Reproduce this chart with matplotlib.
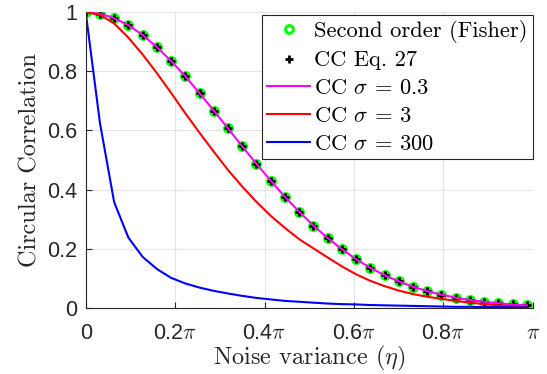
import matplotlib
matplotlib.use("Agg")
import matplotlib.pyplot as plt
import numpy as np

plt.rcParams['mathtext.fontset'] = 'cm'
plt.rcParams['axes.formatter.use_mathtext'] = True

# noise variance samples (rad)
eta = [0.0, 0.1, 0.2, 0.3, 0.4, 0.5, 0.6, 0.7, 0.8, 0.9,
       1.0, 1.1, 1.2, 1.3, 1.4, 1.5, 1.6, 1.7, 1.8, 1.9,
       2.0, 2.1, 2.2, 2.3, 2.4, 2.5, 2.6, 2.7, 2.8, 2.9,
       3.0, 3.1]

# second order (Fisher) / CC Eq. 27 / CC sigma=0.3 (all on top of each other)
cc_fisher = [1.000, 0.995, 0.980, 0.956, 0.923, 0.882, 0.835, 0.783, 0.726, 0.667,
             0.607, 0.546, 0.487, 0.430, 0.375, 0.325, 0.278, 0.236, 0.198, 0.164,
             0.135, 0.110, 0.089, 0.071, 0.056, 0.044, 0.034, 0.026, 0.020, 0.015,
             0.011, 0.008]
cc_eq27 = [1.000, 0.995, 0.980, 0.956, 0.923, 0.882, 0.835, 0.783, 0.726, 0.667,
           0.607, 0.546, 0.487, 0.430, 0.375, 0.325, 0.278, 0.236, 0.198, 0.164,
           0.135, 0.110, 0.089, 0.071, 0.056, 0.044, 0.034, 0.026, 0.020, 0.015,
           0.011, 0.008]
cc_s03 = [1.000, 0.995, 0.980, 0.956, 0.923, 0.882, 0.835, 0.783, 0.726, 0.667,
          0.607, 0.546, 0.487, 0.430, 0.375, 0.325, 0.278, 0.236, 0.198, 0.164,
          0.135, 0.110, 0.089, 0.071, 0.056, 0.044, 0.034, 0.026, 0.020, 0.015,
          0.011, 0.008]
cc_s3 = [1.000, 0.991, 0.962, 0.914, 0.857, 0.794, 0.727, 0.658, 0.592, 0.528,
         0.466, 0.410, 0.358, 0.311, 0.270, 0.232, 0.201, 0.170, 0.140, 0.113,
         0.091, 0.073, 0.058, 0.046, 0.037, 0.030, 0.023, 0.017, 0.012, 0.008,
         0.005, 0.003]
cc_s300 = [1.000, 0.625, 0.357, 0.237, 0.172, 0.131, 0.101, 0.082, 0.068, 0.057,
           0.048, 0.040, 0.033, 0.028, 0.023, 0.020, 0.017, 0.014, 0.012, 0.011,
           0.009, 0.008, 0.007, 0.006, 0.005, 0.004, 0.003, 0.003, 0.002, 0.002,
           0.001, 0.001]

xtick_labels = ['0', r'0.2$\pi$', r'0.4$\pi$', r'0.6$\pi$', r'0.8$\pi$', r'$\pi$']
ytick_labels = ['0', '0.2', '0.4', '0.6', '0.8', '1']

dark = '#262626'

fig = plt.figure(figsize=(5.47, 3.74), dpi=100)
ax = fig.add_axes([0.1567, 0.1773, 0.8172, 0.790])

ax.plot(eta, cc_fisher, 'o', color='#00ff00', mfc='none', mew=2.2, ms=5.6,
        label='Second order (Fisher)')
ax.plot(eta, cc_eq27, '+', color='black', mew=2.0, ms=5.5, label='CC Eq. 27')
ax.plot(eta, cc_s03, color='#ff00ff', lw=1.5, label=r'CC $\sigma$ = 0.3')
ax.plot(eta, cc_s3, color='#ff0000', lw=1.5, label=r'CC $\sigma$ = 3')
ax.plot(eta, cc_s300, color='#0000ff', lw=1.5, label=r'CC $\sigma$ = 300')

ax.set_xlim(0, np.pi)
ax.set_ylim(0, 1)
ax.set_xticks(np.linspace(0, np.pi, 6))
ax.set_xticklabels(xtick_labels, fontfamily='Liberation Sans', fontsize=15.5)
ax.set_yticks(np.linspace(0, 1, 6))
ax.set_yticklabels(ytick_labels, fontfamily='Liberation Sans', fontsize=15.5)
ax.tick_params(direction='in', length=4, width=0.8, colors=dark)
ax.tick_params(axis='x', pad=11)
ax.tick_params(axis='y', pad=6)

ax.grid(True, color='#e3e3e3', lw=0.8)
ax.set_axisbelow(True)
for s in ['top', 'right']:
    ax.spines[s].set_visible(False)
for s in ['left', 'bottom']:
    ax.spines[s].set_color(dark)
    ax.spines[s].set_linewidth(0.8)

ax.set_xlabel(r'Noise variance ($\eta$)', fontfamily='cmr10', fontsize=17.5, color=dark,
              labelpad=0)
ax.set_ylabel('Circular Correlation', fontfamily='cmr10', fontsize=17.5, color=dark,
              labelpad=4)

leg = ax.legend(loc='upper right', bbox_to_anchor=(1.0, 0.992),
                prop={'family': 'cmr10', 'size': 16.2}, fancybox=False,
                edgecolor=dark, framealpha=1, borderpad=0.22, labelspacing=0.36,
                handlelength=1.9, handletextpad=0.2, borderaxespad=0)
leg.get_frame().set_linewidth(0.8)

fig.savefig('out.png', dpi=100)
